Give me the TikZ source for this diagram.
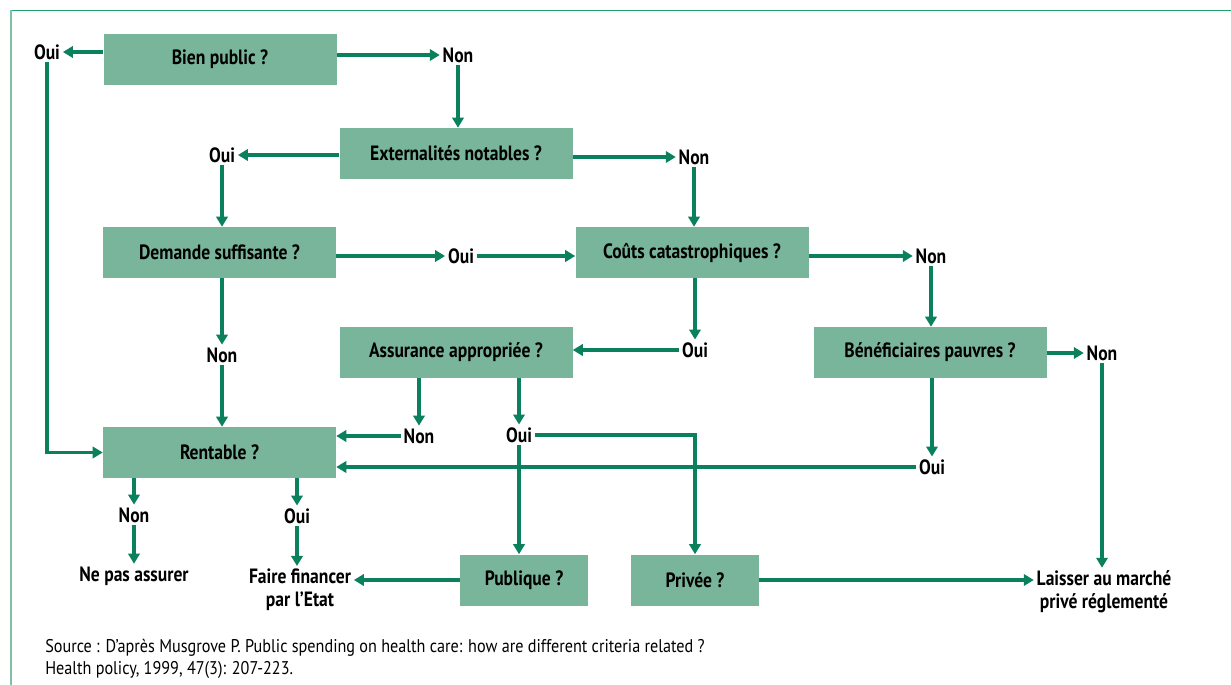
\documentclass[tikz,border=0pt]{standalone}
\usepackage{fontspec}
\setmainfont[FakeStretch=0.85]{PT Sans}
\newfontfamily\srcfont[FakeStretch=0.88]{PT Sans}
\usetikzlibrary{arrows.meta}
\definecolor{boxg}{HTML}{78B59B}
\definecolor{arrg}{HTML}{0A805C}
\definecolor{frtop}{HTML}{22A06B}
\definecolor{frleft}{HTML}{80C0A4}
\begin{document}
\begin{tikzpicture}[x=0.75pt,y=-0.75pt,
  q/.style={fill=boxg, minimum width=174.75pt, minimum height=38.25pt, inner sep=0pt, font=\bfseries\fontsize{15.5}{17.5}\selectfont},
  qs/.style={q, minimum width=96pt},
  lab/.style={inner sep=2pt, font=\bfseries\fontsize{15.5}{17.5}\selectfont, align=center},
  arr/.style={draw=arrg, line width=2.6pt, -{Triangle[length=7.5pt,width=8.5pt]}},
  ln/.style={draw=arrg, line width=2.6pt}]
\useasboundingbox (0,0) rectangle (1231,685);
% frame
\draw[frtop, line width=1.4pt] (11,10.5) -- (1231,10.5);
\draw[frleft, line width=1.4pt] (11,10.5) -- (11,685);
% boxes
\node[q] (bien) at (220,59.5) {Bien public ?};
\node[q] (ext) at (456,153.5) {Externalités notables ?};
\node[q] (dem) at (219.5,252.5) {Demande suffisante ?};
\node[q] (cout) at (692,252.5) {Coûts catastrophiques ?};
\node[q] (ass) at (456,352.5) {Assurance appropriée ?};
\node[q] (ben) at (930,352.5) {Bénéficiaires pauvres ?};
\node[q] (rent) at (219.5,452.5) {Rentable ?};
\node[qs] (pub) at (524,580) {Publique ?};
\node[qs] (priv) at (695,580) {Privée ?};
% labels
\node[lab] (oui1) at (47,52) {Oui};
\node[lab] (non1) at (458,55) {Non};
\node[lab] (oui2) at (222,155) {Oui};
\node[lab] (non2) at (694,157) {Non};
\node[lab] (oui3) at (461,256) {Oui};
\node[lab] (non3) at (931,256) {Non};
\node[lab] (non4) at (222,355) {Non};
\node[lab] (oui4) at (695,350) {Oui};
\node[lab] (non5) at (1102,353) {Non};
\node[lab] (non6) at (419,436) {Non};
\node[lab] (oui5) at (519,435) {Oui};
\node[lab] (oui6) at (932,467) {Oui};
\node[lab] (non7) at (134,515) {Non};
\node[lab] (oui7) at (297,516) {Oui};
\node[lab] (nepas) at (134,576) {Ne pas assurer};
\node[lab] (faire) at (300,590) {Faire financer\\par l’Etat};
\node[lab] (laisser) at (1104,592) {Laisser au marché\\privé réglementé};
% connectors
\draw[arr] (bien.west |- oui1) -- (oui1.east);
\draw[arr] (bien.east |- non1) -- (non1.west);
\draw[arr] (non1.south) -- (ext.north -| non1);
\draw[arr] (ext.west |- oui2) -- (oui2.east);
\draw[arr] (ext.east |- non2) -- (non2.west);
\draw[arr] (oui2.south) -- (dem.north -| oui2);
\draw[arr] (non2.south) -- (cout.north -| non2);
\draw[arr] (dem.east |- oui3) -- (oui3.west);
\draw[arr] (oui3.east) -- (cout.west |- oui3);
\draw[arr] (cout.east |- non3) -- (non3.west);
\draw[arr] (non3.south) -- (ben.north -| non3);
\draw[arr] (dem.south -| non4) -- (non4.north);
\draw[arr] (non4.south) -- (rent.north -| non4);
\draw[arr] (cout.south -| oui4) -- (oui4.north);
\draw[arr] (oui4.west) -- (ass.east |- oui4);
\draw[arr] (ben.east |- non5) -- (non5.west);
\draw[arr] (non5.south) -- (laisser.north -| non5);
\draw[arr] (ben.south -| oui6) -- (oui6.north);
\draw[arr] (oui6.west) -- (rent.east |- oui6);
\draw[arr] (ass.south -| non6) -- (non6.north);
\draw[arr] (non6.west) -- (rent.east |- non6);
\draw[arr] (ass.south -| oui5) -- (oui5.north);
\draw[arr] (oui5.east) -| (priv.north);
\draw[arr] (oui5.south) -- (pub.north -| oui5);
\draw[arr] (pub.west) -- (pub.west -| faire.east);
\draw[arr] (priv.east) -- (priv.east -| laisser.west);
\draw[arr] (rent.south -| non7) -- (non7.north);
\draw[arr] (non7.south) -- (nepas.north);
\draw[arr] (rent.south -| oui7) -- (oui7.north);
\draw[arr] (oui7.south) -- (faire.north -| oui7);
\draw[arr] (oui1.south) |- (rent.west);
% source
\node[anchor=west, align=left, inner sep=0pt, font=\srcfont\fontsize{13.8}{16}\selectfont] (src) at (45,659)
  {Source : D’après Musgrove P. Public spending on health care:  how are different criteria related ?\\Health policy, 1999, 47(3): 207-223.};
\end{tikzpicture}
\end{document}
